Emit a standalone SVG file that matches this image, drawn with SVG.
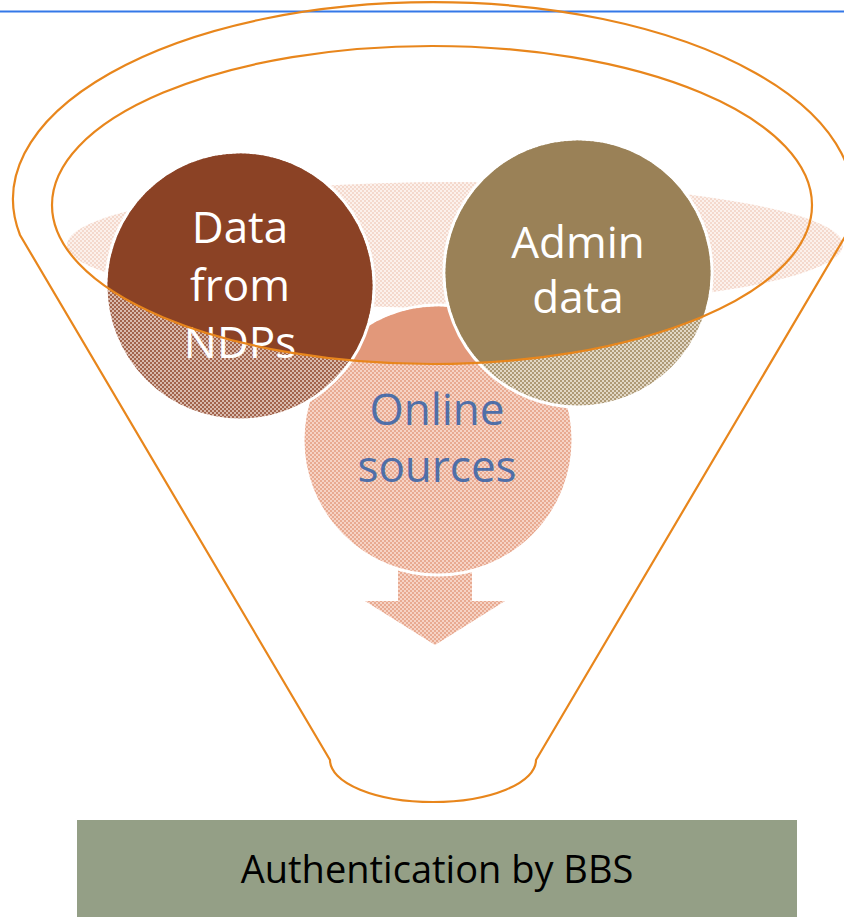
<svg xmlns="http://www.w3.org/2000/svg" width="844" height="917" viewBox="0 0 844 917">
<style>
.orange{fill:none;stroke:#E8861C;stroke-width:2.2}
.circ{stroke:#FFFFFF;stroke-width:3}
.lbl{font-family:"Open Sans","Liberation Sans",sans-serif;font-size:44px;text-anchor:middle}
</style>
<defs>
<pattern id="pNDP" width="4" height="4" patternUnits="userSpaceOnUse"><rect width="4" height="4" fill="#D9BBAE"/><rect width="2" height="2" fill="#A2644C"/><rect x="2" y="2" width="2" height="2" fill="#A2644C"/></pattern>
<pattern id="pAdm" width="4" height="4" patternUnits="userSpaceOnUse"><rect width="4" height="4" fill="#E2D8C6"/><rect width="2" height="2" fill="#AE9A76"/><rect x="2" y="2" width="2" height="2" fill="#AE9A76"/></pattern>
<pattern id="pOnl" width="4" height="4" patternUnits="userSpaceOnUse"><rect width="4" height="4" fill="#F6D3C5"/><rect width="2" height="2" fill="#E8AA91"/><rect x="2" y="2" width="2" height="2" fill="#E8AA91"/></pattern>
<pattern id="pPale" width="4" height="4" patternUnits="userSpaceOnUse"><rect width="4" height="4" fill="#FCF1EC"/><rect width="2" height="2" fill="#F4D9CD"/><rect x="2" y="2" width="2" height="2" fill="#F4D9CD"/></pattern>
<clipPath id="inner"><ellipse cx="432" cy="205" rx="380" ry="159"/></clipPath>
</defs>
<line x1="0" y1="11.5" x2="844" y2="11.5" stroke="#3478E8" stroke-width="2"/>
<g id="funnel-top-surface"><ellipse cx="455" cy="245" rx="388" ry="63" fill="url(#pPale)"/></g>
<g id="connectors"><path id="arrow" d="M398,568 L472,568 L472,601 L505,601 L435,645 L365,601 L398,601 Z" fill="url(#pOnl)"/></g>
<g id="online-sources">
<circle class="circ" cx="438" cy="440" r="135" fill="url(#pOnl)"/>
<circle cx="438" cy="440" r="133.5" fill="#E2987A" clip-path="url(#inner)"/>
<text class="lbl" x="437" y="425" fill="#4F6FA8">Online</text>
<text class="lbl" x="437" y="482" fill="#4F6FA8">sources</text>
</g>
<g id="data-from-ndps">
<circle class="circ" cx="240" cy="286" r="134" fill="url(#pNDP)"/>
<circle cx="240" cy="286" r="132.5" fill="#8B4225" clip-path="url(#inner)"/>
<text class="lbl" x="240" y="243" fill="#FFFFFF">Data</text>
<text class="lbl" x="240" y="301" fill="#FFFFFF">from</text>
<text class="lbl" x="240" y="358" fill="#FFFFFF">NDPs</text>
</g>
<g id="admin-data">
<circle class="circ" cx="578" cy="273" r="134" fill="url(#pAdm)"/>
<circle cx="578" cy="273" r="132.5" fill="#9A8157" clip-path="url(#inner)"/>
<text class="lbl" x="578" y="258" fill="#FFFFFF">Admin</text>
<text class="lbl" x="578" y="313" fill="#FFFFFF">data</text>
</g>
<g id="funnel">
<ellipse class="orange" cx="432" cy="205" rx="380" ry="159"/>
<path class="orange" d="M20,235 A420,197 0 1 1 846,235 L536,760 A103,42 0 0 1 330,760 Z"/>
</g>
<g id="authentication">
<rect x="77" y="820" width="720" height="97" fill="#949F86"/>
<text x="437" y="883" font-family="Open Sans, Liberation Sans, sans-serif" font-size="38" text-anchor="middle" fill="#000000">Authentication by BBS</text>
</g>
</svg>
